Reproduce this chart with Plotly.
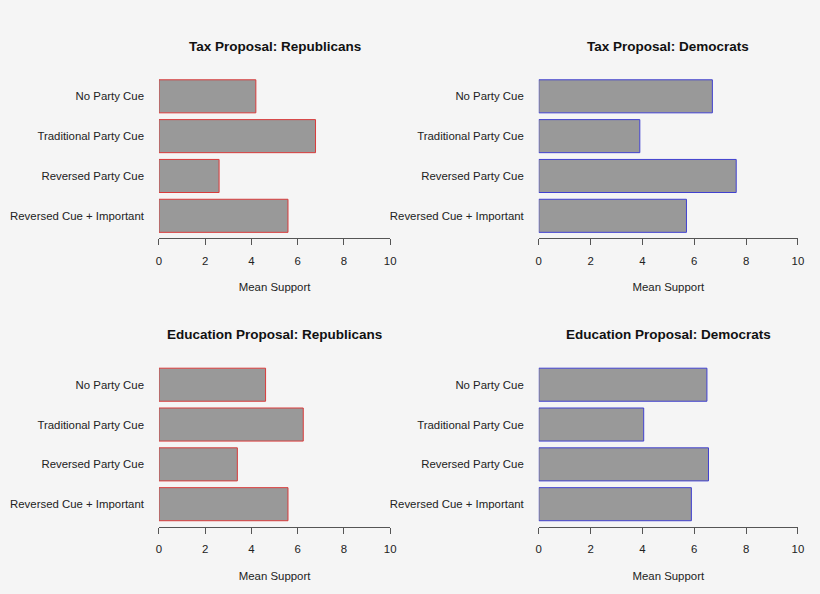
import plotly.graph_objects as go

W, H = 820, 594

# condition labels, top to bottom
conditions = ["No Party Cue", "Traditional Party Cue", "Reversed Party Cue", "Reversed Cue + Important"]

# mean support per condition
tax_rep = [4.19, 6.77, 2.60, 5.58]
tax_dem = [6.70, 3.90, 7.62, 5.70]
edu_rep = [4.61, 6.24, 3.39, 5.58]
edu_dem = [6.49, 4.05, 6.55, 5.89]

x_ticks = [0, 2, 4, 6, 8, 10]

RED = "#d93b3b"
BLUE = "#4040d0"
BG = "#f5f5f5"
AXIS = "#555555"

# title, values, border colour, x pixel span, y pixel span (top, bottom)
panels = [
    ("Tax Proposal: Republicans", tax_rep, RED, (157.7, 391.5), (76.4, 238.3)),
    ("Tax Proposal: Democrats", tax_dem, BLUE, (541.7, 803.7), (76.4, 238.3)),
    ("Education Proposal: Republicans", edu_rep, RED, (157.7, 391.5), (364.8, 526.7)),
    ("Education Proposal: Democrats", edu_dem, BLUE, (541.7, 803.7), (364.8, 526.7)),
]

fig = go.Figure()
annotations = []
layout = {}

for i, (title, vals, col, (x0, x1), (y0, y1)) in enumerate(panels, start=1):
    sfx = "" if i == 1 else str(i)
    fig.add_trace(go.Bar(
        x=vals, y=conditions, orientation="h",
        marker=dict(color="#999999", line=dict(color=col, width=1)),
        xaxis="x" + sfx, yaxis="y" + sfx, showlegend=False, cliponaxis=False,
    ))
    layout["xaxis" + sfx] = dict(
        domain=[x0 / W, x1 / W], anchor="y" + sfx, range=[0, 10],
        tickvals=x_ticks, ticks="outside", ticklen=6, tickcolor=AXIS,
        showline=True, linecolor=AXIS, linewidth=1, showgrid=False, zeroline=False,
        tickfont=dict(size=11.4, color="#222222"), ticklabelstandoff=6,
        title=dict(text="Mean Support", font=dict(size=11.4, color="#222222"), standoff=17),
    )
    layout["yaxis" + sfx] = dict(
        domain=[1 - y1 / H, 1 - y0 / H], anchor="x" + sfx,
        type="category", categoryorder="array", categoryarray=conditions,
        range=[3.565, -0.5], showline=False, showgrid=False, ticks="",
        tickfont=dict(size=11.4, color="#222222"), ticklabelstandoff=14,
    )
    annotations.append(dict(
        text="<b>" + title + "</b>", x=(x0 + x1) / 2 / W, y=1 - (y0 - 30) / H,
        xref="paper", yref="paper", showarrow=False, xanchor="center", yanchor="middle",
        font=dict(size=13.5, color="#111111"),
    ))

fig.update_layout(
    width=W, height=H,
    margin=dict(l=0, r=0, t=0, b=0),
    paper_bgcolor=BG, plot_bgcolor=BG,
    font=dict(family="Liberation Sans, Arial, sans-serif"),
    bargap=0.17,
    annotations=annotations,
    **layout,
)

fig.write_html(
    "out.html",
    config={"displayModeBar": False},
    post_script="document.body.style.margin='0';document.body.style.overflow='hidden';"
                "document.body.style.background='#f5f5f5';",
)
